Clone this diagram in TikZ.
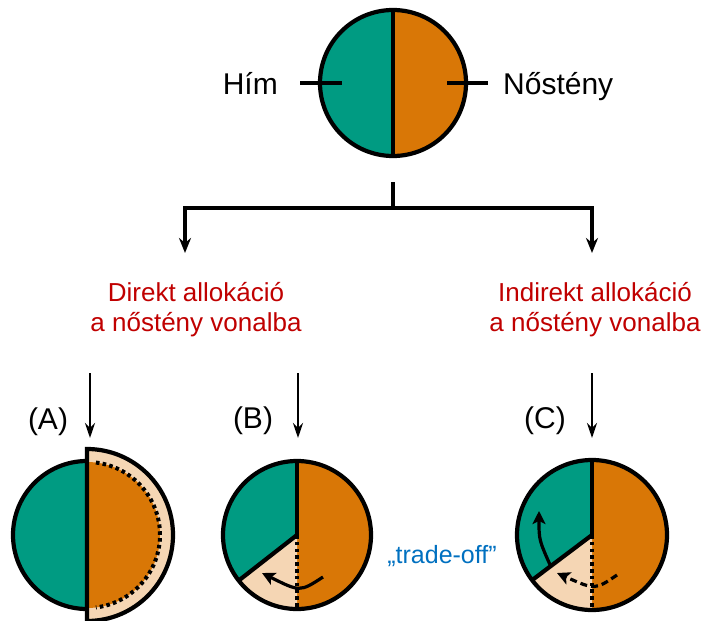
\documentclass[tikz,border=0pt]{standalone}
\usepackage{fontspec}
\setmainfont{Liberation Sans}
\usetikzlibrary{arrows.meta}
\definecolor{tealc}{HTML}{009B82}
\definecolor{orangec}{HTML}{D97706}
\definecolor{peach}{HTML}{F5D6B4}
\definecolor{redc}{HTML}{C00000}
\definecolor{bluec}{HTML}{0070C0}
\begin{document}
\begin{tikzpicture}[x=1pt,y=-1pt,
  outline/.style={line width=4.2pt},
  tree/.style={line width=4pt},
  treearrow/.style={tree,-{Stealth[length=15pt,width=12pt]}},
  downarrow/.style={line width=2.6pt,-{Stealth[length=15pt,width=10pt]}},
  dots/.style={line width=4pt,dash pattern=on 3.6pt off 3.2pt},
  curvearrow/.style={line width=3.2pt,-{Stealth[length=13pt,width=13pt,inset=3pt]}},
  lbl/.style={font=\fontsize{30}{34}\selectfont,inner sep=0pt},
  redlbl/.style={font=\fontsize{26}{30}\selectfont,inner sep=0pt,text=redc,align=center}]
\useasboundingbox (0,0) rectangle (704,621);

% ---------- top circle ----------
\coordinate (ct) at (393,83);
\fill[tealc] (ct) ++(90:73) arc[start angle=90,end angle=270,radius=73] -- cycle;
\fill[orangec] (ct) ++(-90:73) arc[start angle=-90,end angle=90,radius=73] -- cycle;
\draw[outline] (ct) ++(-90:73) -- ++(0,146);
\draw[outline] (ct) circle[radius=73];
\coordinate (lt1) at (300,83); \coordinate (lt2) at (342,83);
\coordinate (rt1) at (447,83); \coordinate (rt2) at (488,83);
\draw[outline] (lt1) -- (lt2);
\draw[outline] (rt1) -- (rt2);
\node[lbl,anchor=base east] (him) at (278,94) {Hím};
\node[lbl,anchor=base west] (nos) at (503,94) {Nőstény};

% ---------- tree ----------
\coordinate (stub) at (393,182);
\coordinate (split) at (393,208);
\coordinate (ldown) at (185,253);
\coordinate (rdown) at (592,253);
\draw[tree] (stub) -- (split);
\draw[treearrow] (split) -| (ldown);
\draw[treearrow] (split) -| (rdown);

\node[redlbl] (dir) at (196,310) {Direkt allokáció\\a nőstény vonalba};
\node[redlbl] (indir) at (595,310) {Indirekt allokáció\\a nőstény vonalba};

% ---------- down arrows ----------
\coordinate (a1) at (90,373); \coordinate (a2) at (90,438);
\coordinate (b1) at (298,373); \coordinate (b2) at (298,438);
\coordinate (c1) at (592,373); \coordinate (c2) at (592,438);
\draw[downarrow] (a1) -- (a2);
\draw[downarrow] (b1) -- (b2);
\draw[downarrow] (c1) -- (c2);
\node[lbl] (la) at (48,422) {(A)};
\node[lbl] (lb) at (253,421) {(B)};
\node[lbl] (lc) at (545,421) {(C)};

% ---------- circle A ----------
\coordinate (ca) at (87,535);
\fill[peach] (ca) ++(-90:86) arc[start angle=-90,end angle=90,radius=86] -- cycle;
\fill[orangec] (ca) ++(-90:73) arc[start angle=-90,end angle=90,radius=73] -- cycle;
\fill[tealc] (ca) ++(90:74) arc[start angle=90,end angle=270,radius=74] -- cycle;
\draw[dots] (ca) ++(-83:73) arc[start angle=-83,end angle=83,radius=73];
\draw[outline] (ca) ++(90:74) arc[start angle=90,end angle=270,radius=74];
\draw[outline] (ca) ++(-90:86) arc[start angle=-90,end angle=90,radius=86] -- cycle;

% ---------- circle B ----------
\coordinate (cb) at (297,535);
\fill[orangec] (cb) ++(-90:74) arc[start angle=-90,end angle=90,radius=74] -- cycle;
\fill[tealc] (cb) -- ++(142:74) arc[start angle=142,end angle=270,radius=74] -- cycle;
\fill[peach] (cb) -- ++(90:74) arc[start angle=90,end angle=142,radius=74] -- cycle;
\draw[outline] (cb) -- ++(270:74);
\draw[outline] (cb) -- ++(142:74);
\draw[dots] (cb) -- ++(90:74);
\draw[outline] (cb) circle[radius=74];
\coordinate (bs) at (323,577); \coordinate (be) at (262,573);
\draw[curvearrow] (bs) .. controls (300,592) .. (be);

\node[inner sep=0pt,font=\fontsize{25}{29}\selectfont,text=bluec] (trade) at (442,556) {„trade-off”};

% ---------- circle C ----------
\coordinate (cc) at (592,535);
\fill[orangec] (cc) ++(-90:75) arc[start angle=-90,end angle=90,radius=75] -- cycle;
\fill[tealc] (cc) -- ++(143:75) arc[start angle=143,end angle=270,radius=75] -- cycle;
\fill[peach] (cc) -- ++(90:75) arc[start angle=90,end angle=143,radius=75] -- cycle;
\draw[outline] (cc) -- ++(270:75);
\draw[outline] (cc) -- ++(143:75);
\draw[dots] (cc) -- ++(90:75);
\draw[outline] (cc) circle[radius=75];
\coordinate (cs) at (617,575); \coordinate (ce) at (557,573);
\draw[curvearrow,dash pattern=on 7pt off 4pt] (cs) .. controls (595,590) .. (ce);
\coordinate (us) at (551,567); \coordinate (ue) at (539,511);
\draw[curvearrow] (us) .. controls (539,540) .. (ue);
\end{tikzpicture}
\end{document}
